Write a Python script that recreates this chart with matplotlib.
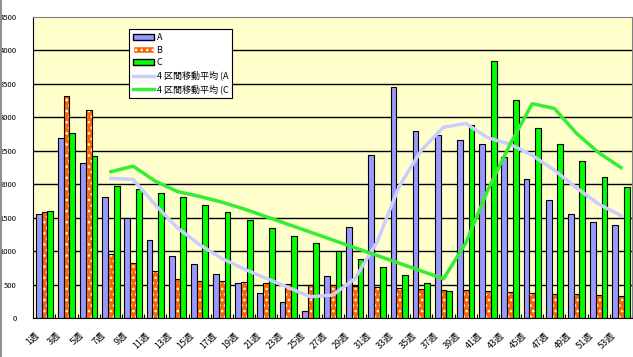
import matplotlib.pyplot as plt
import matplotlib.transforms as mtransforms
from matplotlib.patches import Patch
from matplotlib.lines import Line2D
import numpy as np

plt.rcParams['font.family'] = ['Noto Sans CJK JP', 'DejaVu Sans']

# --- data ---
weeks = [f'{w}週' for w in range(1, 54, 2)]
a_vals = [1550, 2686, 2313, 1804, 1490, 1166, 937, 803, 668, 534, 384, 250, 115, 638,
          1356, 2432, 3449, 2791, 2731, 2656, 2597, 2402, 2073, 1760, 1550, 1431, 1386]
b_vals = [1580, 3314, 3110, 952, 818, 703, 583, 563, 563, 549, 534, 519, 504, 504,
          489, 474, 459, 444, 429, 429, 414, 399, 384, 369, 369, 354, 339]
c_vals = [1595, 2761, 2422, 1973, 1924, 1864, 1804, 1685, 1580, 1460, 1341, 1221, 1117, 997,
          878, 758, 653, 534, 414, 2880, 3837, 3254, 2836, 2597, 2343, 2103, 1954]
# 4-interval moving averages (start at the 4th category)
ma_a = [2088, 2073, 1693, 1349, 1099, 894, 736, 597, 459, 321, 347, 590, 1135, 1969,
        2507, 2851, 2907, 2694, 2597, 2432, 2208, 1946, 1704, 1532]
ma_c = [2188, 2270, 2046, 1891, 1819, 1733, 1632, 1517, 1401, 1285, 1169, 1053, 938, 822,
        706, 590, 1120, 1916, 2596, 3202, 3131, 2758, 2470, 2249]
ma_labels = ['4 区間移動平均 (A', '4 区間移動平均 (C']

col_a = '#9999FF'
col_b = '#FF6600'
col_c = '#00FF00'
col_ma_a = '#CCCCFF'
col_ma_c = '#33EE33'

fig = plt.figure(figsize=(6.33, 3.57), dpi=100)
ax = fig.add_axes([33.3 / 633, 1 - 318.3 / 357, (632 - 33.3) / 633, (318.3 - 16.7) / 357])
ax.set_facecolor('#FFFFCC')

x = np.arange(len(weeks))
w = 0.26

# grid
for v in range(500, 4500, 500):
    ax.axhline(v, color='black', lw=1, zorder=1)

ax.bar(x - w, a_vals, w, color=col_a, edgecolor='black', lw=0.8, zorder=2)
ax.bar(x, b_vals, w, color=col_b, edgecolor='white', hatch='...', lw=0, zorder=2)
ax.bar(x, b_vals, w, fill=False, edgecolor='black', lw=0.8, zorder=2.1)
ax.bar(x + w, c_vals, w, color=col_c, edgecolor='black', lw=0.8, zorder=2)

xm = x[3:]
ax.plot(xm, ma_a, color=col_ma_a, lw=2.5, zorder=3)
ax.plot(xm, ma_c, color=col_ma_c, lw=2.5, zorder=3)

ax.set_xlim(-0.5, len(weeks) - 0.5)
ax.set_ylim(0, 4500)
ax.set_yticks(range(0, 5000, 500))
ax.tick_params(axis='y', length=0, pad=12, labelsize=5.5)

ax.set_xticks(x)
ax.set_xticklabels(weeks, rotation=45, ha='right', va='center', rotation_mode='anchor', fontsize=6.5)
ax.set_xticks(np.arange(-0.5, len(weeks), 1), minor=True)
ax.tick_params(axis='x', which='major', length=0, pad=11)
ax.tick_params(axis='x', which='minor', length=3, direction='in', width=0.8)
off = mtransforms.ScaledTranslation(-7 / 100, 0, fig.dpi_scale_trans)
for lbl in ax.get_xticklabels():
    lbl.set_transform(lbl.get_transform() + off)

for s in ['top', 'right']:
    ax.spines[s].set_color('#808080')
for s in ['left', 'bottom']:
    ax.spines[s].set_color('black')

handles = [Patch(facecolor=col_a, edgecolor='black'),
           Patch(facecolor=col_b, edgecolor='white', hatch='...'),
           Patch(facecolor=col_c, edgecolor='black'),
           Line2D([], [], color=col_ma_a, lw=2.5),
           Line2D([], [], color=col_ma_c, lw=2.5)]
leg = ax.legend(handles, ['A', 'B', 'C'] + ma_labels, loc='upper left',
                bbox_to_anchor=((129 - 33.3) / 598.7, (318.3 - 29) / 301.6),
                borderaxespad=0, fontsize=6.5, frameon=True, fancybox=False, framealpha=1,
                edgecolor='black', handlelength=2.3, handleheight=0.7,
                labelspacing=0.4, borderpad=0.45, handletextpad=0.3)
leg.get_frame().set_linewidth(0.8)

# grey line on the left edge of the picture
fig.add_artist(Line2D([0.001, 0.001], [0, 1], color='#909090', lw=1.5))

fig.savefig('out.png', dpi=100)
